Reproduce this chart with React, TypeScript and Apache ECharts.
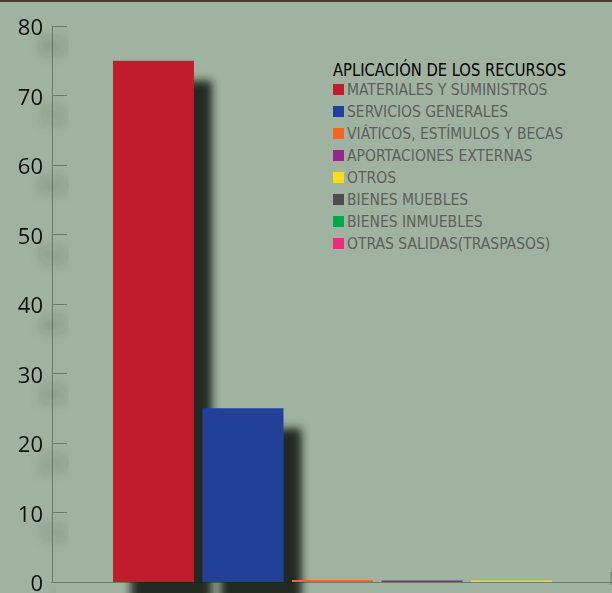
import React, { useEffect, useRef } from "react";
import * as echarts from "echarts";

const categories: string[] = [""];
const seriesNames: string[] = [
  "MATERIALES Y SUMINISTROS",
  "SERVICIOS GENERALES",
  "VIÁTICOS, ESTÍMULOS Y BECAS",
  "APORTACIONES EXTERNAS",
  "OTROS",
  "BIENES MUEBLES",
  "BIENES INMUEBLES",
  "OTRAS SALIDAS(TRASPASOS)",
];
const seriesValues: number[] = [75, 25, 0.3, 0.2, 0.2, 0, 0, 0];
const seriesColors: string[] = [
  "#C01E2E",
  "#21409A",
  "#F26522",
  "#92278F",
  "#FFDE17",
  "#4D4D4F",
  "#00A651",
  "#EE2A7B",
];
const legendTitle = "APLICACIÓN DE LOS RECURSOS";
const yMin = 0;
const yMax = 80;
const yInterval = 10;

const narrow = "'Liberation Sans Narrow', 'Arial Narrow', 'DejaVu Sans Condensed', sans-serif";

export default function App() {
  const ref = useRef<HTMLDivElement>(null);
  useEffect(() => {
    if (!ref.current) return;
    const chart = echarts.init(ref.current, undefined, { renderer: "svg" });
    const axisGray = "#6b7b6b";
    chart.setOption({
      animation: false,
      backgroundColor: "#A0B3A0",
      grid: { left: 52, top: 26, bottom: 8, right: 0.5, containLabel: false },
      legend: {
        orient: "vertical",
        left: 328,
        top: 76,
        icon: "rect",
        itemWidth: 11,
        itemHeight: 11,
        itemGap: 5,
        data: seriesNames,
        textStyle: {
          fontFamily: narrow,
          fontSize: 15.5,
          lineHeight: 17,
          color: "#5e5e5e",
          padding: [0, 0, 0, -2],
        },
      },
      xAxis: {
        type: "category",
        data: categories,
        axisLine: { show: true, lineStyle: { color: axisGray, width: 1 } },
        axisTick: { show: false },
        axisLabel: { show: false },
        splitLine: { show: false },
      },
      yAxis: {
        type: "value",
        min: yMin,
        max: yMax,
        interval: yInterval,
        axisLine: { show: true, lineStyle: { color: axisGray, width: 1 } },
        axisTick: { show: true, inside: true, length: 15, lineStyle: { color: axisGray } },
        splitLine: { show: false },
        axisLabel: {
          fontFamily: "'Open Sans', sans-serif",
          fontSize: 22,
          color: "#111",
          margin: 9,
          padding: [4, 0, 0, 0],
          textShadowColor: "rgba(40,50,40,0.5)",
          textShadowBlur: 11,
          textShadowOffsetX: 22,
          textShadowOffsetY: 19,
        },
      },
      graphic: [
        { type: "rect", shape: { x: 0, y: 0, width: 612, height: 2 }, style: { fill: "#4a3a30" } },
        {
          type: "line",
          shape: { x1: 611, y1: 572, x2: 611, y2: 585 },
          style: { stroke: axisGray, lineWidth: 1 },
        },
        {
          type: "text",
          x: 333,
          y: 70,
          scaleX: 0.91,
          style: {
            text: legendTitle,
            fontFamily: narrow,
            fontSize: 18,
            fill: "#000",
            verticalAlign: "middle",
          },
        },
      ],
      series: seriesNames.map((name, i) => ({
        name,
        type: "bar",
        data: [seriesValues[i]],
        barWidth: 81,
        barGap: "10.5%",
        itemStyle: {
          color: seriesColors[i],
          shadowColor: "rgba(25,30,25,0.92)",
          shadowBlur: 8,
          shadowOffsetX: 18,
          shadowOffsetY: 20,
        },
      })),
    });
    return () => chart.dispose();
  }, []);
  return (
    <div
      ref={ref}
      style={{ position: "fixed", left: 0, top: 0, width: 882, height: 593 }}
    />
  );
}
